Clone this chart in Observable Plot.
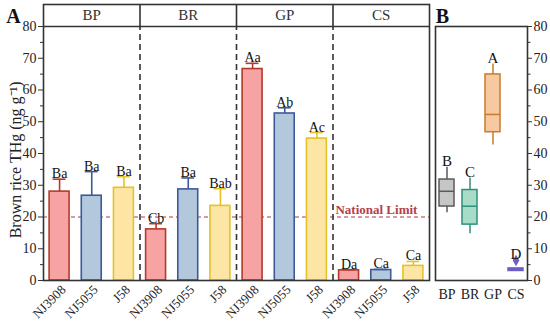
<!DOCTYPE html>
<html>
<head>
<meta charset="utf-8">
<script src="https://cdn.jsdelivr.net/npm/d3@7"></script>
<script src="https://cdn.jsdelivr.net/npm/@observablehq/plot@0.6"></script>
<style>
  html, body { margin: 0; padding: 0; background: #fff; }
  #wrap { position: relative; width: 550px; height: 323px; color: #222; font-family: "Liberation Serif", serif; }
  #wrap svg { position: absolute; top: 0; overflow: visible; font-family: "Liberation Serif", serif !important; }
  #wrap svg text, #wrap svg g { font-family: "Liberation Serif", serif !important; }
</style>
</head>
<body>
<div id="wrap"></div>
<script>
// ---- Data (panel A) ----
const groups = ["BP", "BR", "GP", "CS"];
const varieties = ["NJ3908", "NJ5055", "J58"];
const meanNJ3908 = [28.0, 16.1, 66.6, 3.2];
const meanNJ5055 = [26.7, 28.7, 52.6, 3.3];
const meanJ58    = [29.2, 23.5, 44.7, 4.6];
const errNJ3908  = [3.9, 1.8, 1.8, 0.2];
const errNJ5055  = [7.6, 3.6, 1.8, 0.2];
const errJ58     = [3.5, 5.4, 1.9, 1.4];
const letNJ3908  = ["Ba", "Cb", "Aa", "Da"];
const letNJ5055  = ["Ba", "Ba", "Ab", "Ca"];
const letJ58     = ["Ba", "Bab", "Ac", "Ca"];
const nationalLimit = 20;
const yTicksA = [0, 10, 20, 30, 40, 50, 60, 70, 80];
const yMinorA = [5, 15, 25, 35, 45, 55, 65, 75];

// ---- Data (panel B) ----
const boxGroups = ["BP", "BR", "GP", "CS"];
const boxLo  = [21.3, 14.7, 42.7, 3.0];
const boxQ1  = [23.3, 17.6, 46.7, 3.0];
const boxMed = [28.1, 23.4, 52.3, 3.4];
const boxQ3  = [31.8, 28.5, 64.9, 3.8];
const boxHi  = [35.7, 32.3, 68.2, 3.8];
const boxLetters = ["B", "C", "A", "D"];
const outlierGroups = ["CS"];
const outlierValues = [6.3];

// ---- Styles ----
const fills   = {NJ3908: "#f7a3a3", NJ5055: "#b3c7dd", J58: "#fde5a5"};
const strokes = {NJ3908: "#b23a2a", NJ5055: "#3c5a98", J58: "#e3c22a"};
const boxFill   = ["#c6c6c6", "#a6dcc8", "#f6c9a0", "#6b5fc7"];
const boxStroke = ["#5a5a5a", "#2f8f7a", "#c77b30", "#6b5fc7"];

const means = {NJ3908: meanNJ3908, NJ5055: meanNJ5055, J58: meanJ58};
const errs = {NJ3908: errNJ3908, NJ5055: errNJ5055, J58: errJ58};
const lets = {NJ3908: letNJ3908, NJ5055: letNJ5055, J58: letJ58};

const rows = [];
groups.forEach((g, gi) => varieties.forEach((v, vi) => {
  rows.push({group: g, variety: v, i: gi * 3 + vi, mean: means[v][gi], top: means[v][gi] + errs[v][gi], letter: lets[v][gi]});
}));

const headerTop = 86.93;
const font = "Liberation Serif";
const ink = "#333";

const plotA = Plot.plot({
  width: 432, height: 323,
  marginLeft: 43, marginRight: 3, marginTop: 4, marginBottom: 43,
  x: {domain: [0, 12], axis: null},
  y: {domain: [0, headerTop], axis: null},
  style: {fontFamily: font, fontSize: "14px", background: "transparent", color: "#222"},
  marks: [
    Plot.ruleY([nationalLimit], {stroke: "#b5363f", strokeDasharray: "4,3", strokeWidth: 1}),
    Plot.rectY(rows, {x1: d => d.i + 0.19, x2: d => d.i + 0.81, y1: 0, y2: "mean",
      fill: d => fills[d.variety], stroke: d => strokes[d.variety], strokeWidth: 1.6}),
    Plot.ruleX(rows, {x: d => d.i + 0.5, y1: "mean", y2: "top", stroke: d => strokes[d.variety], strokeWidth: 1.6}),
    Plot.ruleY(rows, {y: "top", x1: d => d.i + 0.3, x2: d => d.i + 0.7, stroke: d => strokes[d.variety], strokeWidth: 1.6}),
    Plot.text(rows, {x: d => d.i + 0.5, y: "top", text: "letter", lineAnchor: "bottom", dy: -1, fontSize: 14, fill: "#111"}),
    Plot.ruleX([3, 6, 9], {y1: 0, y2: 80, stroke: ink, strokeWidth: 1.6, strokeDasharray: "6,4"}),
    Plot.ruleX([3, 6, 9], {y1: 80, y2: headerTop, stroke: ink, strokeWidth: 1.6}),
    Plot.ruleY([80], {stroke: ink, strokeWidth: 1.6}),
    Plot.frame({stroke: ink, strokeWidth: 1.6}),
    Plot.text(groups, {x: (d, i) => i * 3 + 1.5, y: (80 + headerTop) / 2, text: d => d, fontSize: 15, fill: ink}),
    Plot.text(["National Limit"], {x: 10.35, y: nationalLimit, dy: -7, text: d => d, fontWeight: "bold", fontSize: 13, fill: "#b5414a"}),
    Plot.text(rows, {x: d => d.i + 0.5, y: 0, text: "variety", rotate: -45, textAnchor: "end", dx: 4, dy: 7, fontSize: 13, fill: "#222"}),
    Plot.axisY({ticks: yTicksA, tickSize: 5, tickPadding: 2, fontSize: 14, label: null, stroke: ink}),
    Plot.axisY({ticks: yMinorA, tickSize: 3, tickFormat: () => "", label: null, stroke: ink}),
    Plot.text(["Brown rice THg (ng g\u207B\u00B9)"], {frameAnchor: "left", y: 38, rotate: -90, dx: -28, text: d => d, textAnchor: "middle", lineAnchor: "middle", fontSize: 16, fill: "#222"}),
    Plot.text(["A"], {frameAnchor: "top-left", dx: -30, dy: 12, text: d => d, textAnchor: "middle", lineAnchor: "middle", fontWeight: "bold", fontSize: 20, fill: "#111"})
  ]
});
plotA.style.left = "0px";

const boxes = boxGroups.map((g, i) => ({group: g, lo: boxLo[i], q1: boxQ1[i], med: boxMed[i], q3: boxQ3[i], hi: boxHi[i], letter: boxLetters[i], fill: boxFill[i], stroke: boxStroke[i]}));
const outliers = outlierGroups.map((g, i) => ({group: g, value: outlierValues[i]}));
const topOf = d => Math.max(d.hi, ...outliers.filter(o => o.group === d.group).map(o => o.value));

const plotB = Plot.plot({
  width: 120, height: 323,
  marginLeft: 5, marginRight: 23, marginTop: 26, marginBottom: 43,
  x: {domain: boxGroups, type: "band", paddingInner: 0.34, paddingOuter: 0.17, axis: null},
  y: {domain: [0, 80], axis: null},
  style: {fontFamily: font, fontSize: "14px", background: "transparent", color: "#222"},
  marks: [
    Plot.ruleX(boxes, {x: "group", y1: "lo", y2: "hi", stroke: d => d.stroke, strokeWidth: 1.5}),
    Plot.barY(boxes, {x: "group", y1: "q1", y2: "q3", fill: d => d.fill, stroke: d => d.stroke, strokeWidth: 1.5}),
    Plot.tickY(boxes, {x: "group", y: "med", stroke: d => d.stroke, strokeWidth: 1.5}),
    Plot.dot(outliers, {x: "group", y: "value", symbol: "diamond", r: 3.5, fill: "#6b5fc7", stroke: "none"}),
    Plot.text(boxes, {x: "group", y: topOf, text: "letter", lineAnchor: "bottom", dy: -1, fontSize: 15, fill: "#111"}),
    Plot.frame({stroke: ink, strokeWidth: 1.6}),
    Plot.axisY({anchor: "right", ticks: yTicksA, tickSize: 4, tickPadding: 2, fontSize: 14, label: null, stroke: ink}),
    Plot.axisY({anchor: "right", ticks: yMinorA, tickSize: 2.5, tickFormat: () => "", label: null, stroke: ink}),
    Plot.text(boxGroups, {x: d => d, y: 0, dy: 14, text: d => d, fontSize: 14, fill: "#222"}),
    Plot.text(["B"], {frameAnchor: "top-left", dx: 7, dy: -10, text: d => d, textAnchor: "middle", lineAnchor: "middle", fontWeight: "bold", fontSize: 20, fill: "#111"})
  ]
});
plotB.style.left = "430px";

document.getElementById("wrap").append(plotA, plotB);
</script>
</body>
</html>
